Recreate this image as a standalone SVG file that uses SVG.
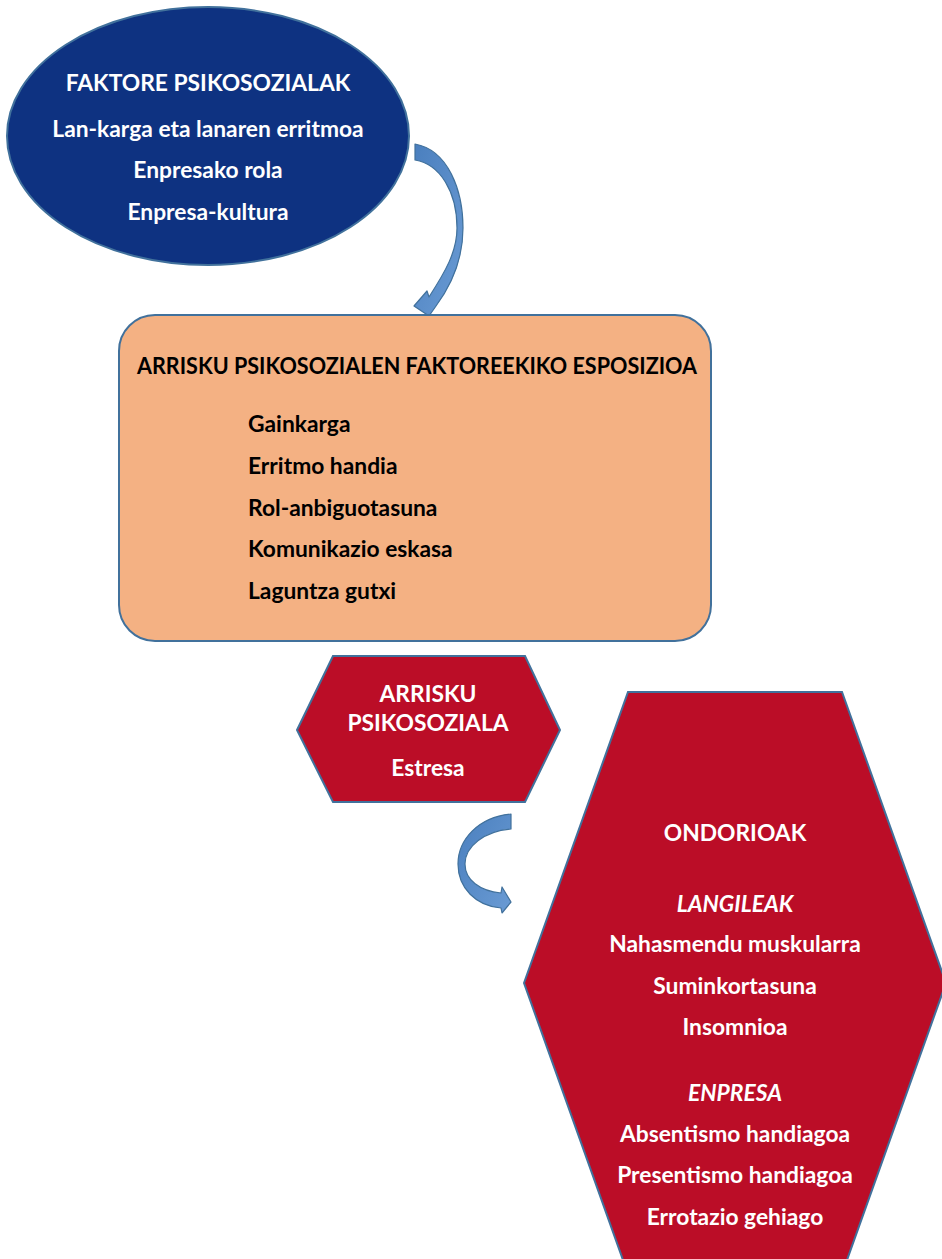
<svg xmlns="http://www.w3.org/2000/svg" width="942" height="1259" viewBox="0 0 942 1259">
<defs>
<style>
.t{font-family:Lato,"Open Sans","Liberation Sans",sans-serif;font-weight:bold;font-size:22.8px;text-anchor:middle;fill:#ffffff}
.b{font-family:Lato,"Open Sans","Liberation Sans",sans-serif;font-weight:bold;font-size:22.8px;fill:#000000}
.i{font-style:italic}
.node{stroke:#41719c;stroke-width:2}
.arrow{fill:url(#ag);stroke:#41719c;stroke-width:1.2;stroke-linejoin:round}
</style>
<linearGradient id="ag" x1="0" y1="0" x2="1" y2="1">
<stop offset="0" stop-color="#4a7fbe"/>
<stop offset="1" stop-color="#6a9bd4"/>
</linearGradient>
</defs>
<rect width="942" height="1259" fill="#ffffff"/>
<g id="connectors">
<path class="arrow" d="M 415,144 C 448,150 463,190 463,228 C 463,262 450,287 436,306 L 429,316 L 414,306 L 427,291 L 429,297 C 445,272 457,252 457,228 C 457,192 440,164 415,160 Z"/>
<path class="arrow" d="M 511,814 C 478,817 458,840 458,864 C 458,888 476,906 501,908 L 502,913 L 511,902 L 502,887 L 501,893 C 480,891 465,880 465,864 C 465,846 485,831 511,829 Z"/>
</g>
<g id="faktore">
<ellipse class="node" cx="208" cy="136" rx="201" ry="129" fill="#0e3281"/>
<text class="t" x="208" y="91">FAKTORE PSIKOSOZIALAK</text>
<text class="t" x="208" y="137">Lan-karga eta lanaren erritmoa</text>
<text class="t" x="208" y="178">Enpresako rola</text>
<text class="t" x="208" y="220">Enpresa-kultura</text>
</g>
<g id="esposizioa">
<rect class="node" x="119" y="315" width="592" height="326" rx="36" ry="36" fill="#f4b183"/>
<text class="b" x="137" y="374" textLength="560" lengthAdjust="spacingAndGlyphs">ARRISKU PSIKOSOZIALEN FAKTOREEKIKO ESPOSIZIOA</text>
<text class="b" x="248" y="432">Gainkarga</text>
<text class="b" x="248" y="474">Erritmo handia</text>
<text class="b" x="248" y="516">Rol-anbiguotasuna</text>
<text class="b" x="248" y="557">Komunikazio eskasa</text>
<text class="b" x="248" y="599">Laguntza gutxi</text>
</g>
<g id="arrisku">
<polygon class="node" points="297,730 333,656 525,656 560,730 525,802 333,802" fill="#bb0d27"/>
<text class="t" x="428" y="702">ARRISKU</text>
<text class="t" x="428" y="731">PSIKOSOZIALA</text>
<text class="t" x="428" y="776">Estresa</text>
</g>
<g id="ondorioak">
<polygon class="node" points="524,983 628,692 842,692 946,983 842,1274 628,1274" fill="#bb0d27"/>
<text class="t" x="735" y="841">ONDORIOAK</text>
<text class="t i" x="735" y="912">LANGILEAK</text>
<text class="t" x="735" y="952">Nahasmendu muskularra</text>
<text class="t" x="735" y="994">Suminkortasuna</text>
<text class="t" x="735" y="1035">Insomnioa</text>
<text class="t i" x="735" y="1101">ENPRESA</text>
<text class="t" x="735" y="1142">Absentismo handiagoa</text>
<text class="t" x="735" y="1183">Presentismo handiagoa</text>
<text class="t" x="735" y="1225">Errotazio gehiago</text>
</g>
</svg>
